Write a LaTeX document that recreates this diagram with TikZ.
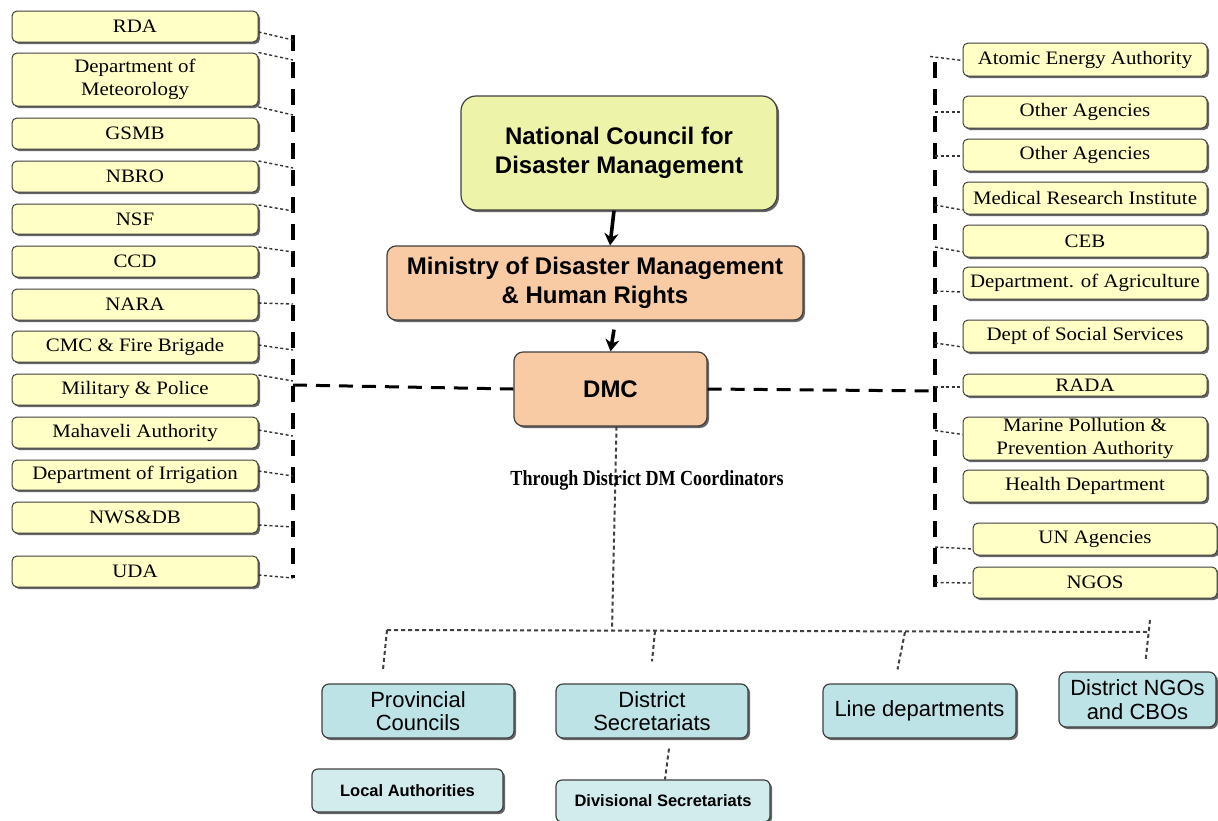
\documentclass[tikz,border=0pt]{standalone}
\usepackage{fontspec}
\setmainfont{Liberation Serif}
\setsansfont{Liberation Sans}
\newfontfamily\boxfont{Liberation Serif}[FakeStretch=1.1]
\newfontfamily\condfont{Liberation Serif}[FakeStretch=0.84]
\usetikzlibrary{shadows,calc,arrows.meta}
\definecolor{ybox}{HTML}{FFFFC6}
\definecolor{ncfill}{HTML}{EDF4A9}
\definecolor{peach}{HTML}{F8CBA4}
\definecolor{bluebox}{HTML}{BDE3E6}
\definecolor{lightblue}{HTML}{D2ECEE}
\definecolor{edge}{HTML}{404040}
\begin{document}
\begin{tikzpicture}[x=1pt,y=-1pt,
  shad/.style={drop shadow={shadow xshift=2pt,shadow yshift=-2pt,fill=black!75,opacity=0.8}},
  agency/.style={shad,draw=edge,line width=1pt,fill=ybox,rounded corners=5pt,inner sep=0pt,align=center,
     minimum width=246pt,font=\boxfont\fontsize{19}{23}\selectfont},
  mainbox/.style={shad,draw=edge,line width=1.2pt,rounded corners=9pt,inner sep=0pt,align=center,
     font=\sffamily\bfseries\fontsize{24}{28.5}\selectfont},
  distbox/.style={shad,draw=edge,line width=1.2pt,fill=bluebox,rounded corners=7pt,inner sep=0pt,align=center,
     font=\sffamily\fontsize{22}{23.5}\selectfont},
  subbox/.style={shad,draw=edge,line width=1.2pt,fill=lightblue,rounded corners=6pt,inner sep=0pt,align=center,
     font=\sffamily\bfseries\fontsize{16.5}{18}\selectfont},
  vdash/.style={line width=4pt,dash pattern=on 16pt off 11pt},
  hdash/.style={line width=3pt,dash pattern=on 14pt off 9pt},
  dotc/.style={line width=1.4pt,dash pattern=on 3pt off 2.5pt,black!80},
  treedot/.style={line width=2pt,dash pattern=on 4pt off 3pt,black!75},
  arr/.style={line width=3.6pt,-{Stealth[length=12pt,width=14pt]}}
]
\useasboundingbox (0,0) rectangle (1218,820);
\fill[white] (0,0) rectangle (1218,820);

% ---------- left agencies ----------
\node[agency,minimum height=31pt] (l1) at (135,26.5) {RDA};
\node[agency,minimum height=53pt] (l2) at (135,79.5) {Department of\\Meteorology};
\node[agency,minimum height=31pt] (l3) at (135,133.5) {GSMB};
\node[agency,minimum height=31pt] (l4) at (135,176.5) {NBRO};
\node[agency,minimum height=30pt] (l5) at (135,219) {NSF};
\node[agency,minimum height=31pt] (l6) at (135,261.5) {CCD};
\node[agency,minimum height=31pt] (l7) at (135,304.5) {NARA};
\node[agency,minimum height=31pt] (l8) at (135,346.5) {CMC \& Fire Brigade};
\node[agency,minimum height=31pt] (l9) at (135,389.5) {Military \& Police};
\node[agency,minimum height=31pt] (l10) at (135,432.5) {Mahaveli Authority};
\node[agency,minimum height=30pt] (l11) at (135,475) {Department of Irrigation};
\node[agency,minimum height=31pt] (l12) at (135,517.5) {NWS\&DB};
\node[agency,minimum height=31pt] (l13) at (135,571.5) {UDA};

% ---------- right agencies ----------
\node[agency,minimum width=244pt,minimum height=33pt] (r1) at (1085,59.5) {Atomic Energy Authority};
\node[agency,minimum width=244pt,minimum height=32pt] (r2) at (1085,112) {Other Agencies};
\node[agency,minimum width=244pt,minimum height=32pt] (r3) at (1085,155) {Other Agencies};
\node[agency,minimum width=244pt,minimum height=32pt] (r4) at (1085,198) {Medical Research Institute};
\node[agency,minimum width=244pt,minimum height=32pt] (r5) at (1085,241) {CEB};
\node[agency,minimum width=244pt,minimum height=32pt] (r6) at (1085,283) {Department. of Agriculture};
\node[agency,minimum width=244pt,minimum height=32pt] (r7) at (1085,336) {Dept of Social Services};
\node[agency,minimum width=244pt,minimum height=22pt] (r8) at (1085,385) {RADA};
\node[agency,minimum width=244pt,minimum height=43pt] (r9) at (1085,438.5) {Marine Pollution \&\\Prevention Authority};
\node[agency,minimum width=244pt,minimum height=32pt] (r10) at (1085,486) {Health Department};
\node[agency,minimum width=244pt,minimum height=32pt] (r11) at (1095,539) {UN Agencies};
\node[agency,minimum width=244pt,minimum height=31pt] (r12) at (1095,582.5) {NGOS};

% ---------- centre ----------
\node[mainbox,fill=ncfill,rounded corners=15pt,minimum width=316pt,minimum height=114pt] (nc) at (619,153)
  {National Council for\\Disaster Management};
\node[mainbox,fill=peach,minimum width=416pt,minimum height=74pt] (min) at (595,283)
  {Ministry of Disaster Management\\\& Human Rights};
\node[mainbox,fill=peach,minimum width=193pt,minimum height=74pt] (dmc) at (610.5,389) {DMC};

\draw[arr] ([xshift=-5pt]nc.south) -- ([xshift=15pt]min.north);
\draw[arr] ([xshift=19pt,yshift=-9pt]min.south) -- (dmc.north);

% ---------- trunk lines ----------
\coordinate (lt) at (293,35);
\coordinate (lb) at (293,578);
\coordinate (rt) at (935,62);
\coordinate (rb) at (935,587);
\draw[vdash] (lt) -- (lb);
\draw[vdash] (rt) -- (rb);
\draw[hdash] ($(dmc.west -| lt)+(0,-4)$) -- (dmc.west);
\draw[hdash] (dmc.east) -- ($(dmc.east -| rt)+(0,2)$);

% left connectors
\newcommand\lconn[3]{\draw[dotc] ($(#1.east)+(0,#2)$) -- ($(#1.east -| lt)+(0,#3)$);}
\lconn{l1}{5.5}{13.5}
\lconn{l2}{-27}{-19.5}
\lconn{l2}{27.5}{35.5}
\lconn{l4}{-15.5}{-8.5}
\lconn{l5}{-14}{-8}
\lconn{l6}{-14.5}{-9.5}
\lconn{l7}{-1.5}{-0.5}
\lconn{l8}{-1.5}{3.5}
\lconn{l9}{-14.5}{-8.5}
\lconn{l10}{-2.5}{3.5}
\lconn{l11}{-4}{1}
\lconn{l12}{7.5}{9.5}
\lconn{l13}{3.5}{6.5}

% right connectors
\newcommand\rconn[3]{\draw[dotc] ($(#1.west -| rt)+(0,#2)$) -- ($(#1.west)+(0,#3)$);}
\draw[dotc] ($(r1.west -| rt)+(-5,-3)$) -- ($(r1.west)+(0,1)$);
\rconn{r2}{0}{0}
\rconn{r3}{1}{1}
\rconn{r4}{7}{12}
\rconn{r5}{6}{11}
\rconn{r6}{8}{9}
\rconn{r7}{7}{11}
\rconn{r8}{2}{2}
\rconn{r9}{-8}{-4}
\rconn{r11}{8}{10}
\rconn{r12}{0}{0.5}

% ---------- district level ----------
\coordinate (jn) at (612,630);
\coordinate (h1) at (387,630);
\coordinate (h2) at (655,631);
\coordinate (h3) at (905,632);
\coordinate (h4) at (1150,632);
\draw[treedot] ([xshift=6pt]dmc.south) -- (jn);

\node[font=\condfont\bfseries\fontsize{21.5}{22}\selectfont] (thr) at (647,480) {Through District DM Coordinators};

\node[distbox,minimum width=192pt,minimum height=54pt] (pc) at (418,711) {Provincial\\Councils};
\node[distbox,minimum width=192pt,minimum height=54pt] (ds) at (652,711) {District\\Secretariats};
\node[distbox,minimum width=193pt,minimum height=54pt] (ld) at (919.5,711) {Line departments};
\node[distbox,minimum width=157pt,minimum height=55pt] (ngo) at (1137.5,699.5) {District NGOs\\and CBOs};
\node[subbox,minimum width=191pt,minimum height=43pt] (la) at (407.5,790.5) {Local Authorities};
\node[subbox,minimum width=214pt,minimum height=42pt] (dvs) at (663,801) {Divisional Secretariats};

\draw[treedot] (h1) -- (h4);
\draw[treedot] (h1) -- ($(pc.north)+(-35,-14)$);
\draw[treedot] (h2) -- ($(ds.north)+(0,-22)$);
\draw[treedot] (h3) -- ($(ld.north)+(-22,-14)$);
\draw[treedot] ($(h4)+(0,-12)$) -- ($(ngo.north)+(8,-10)$);
\draw[treedot] ($(ds.south)+(17,10)$) -- ($(dvs.north)+(2,0)$);
\end{tikzpicture}
\end{document}
